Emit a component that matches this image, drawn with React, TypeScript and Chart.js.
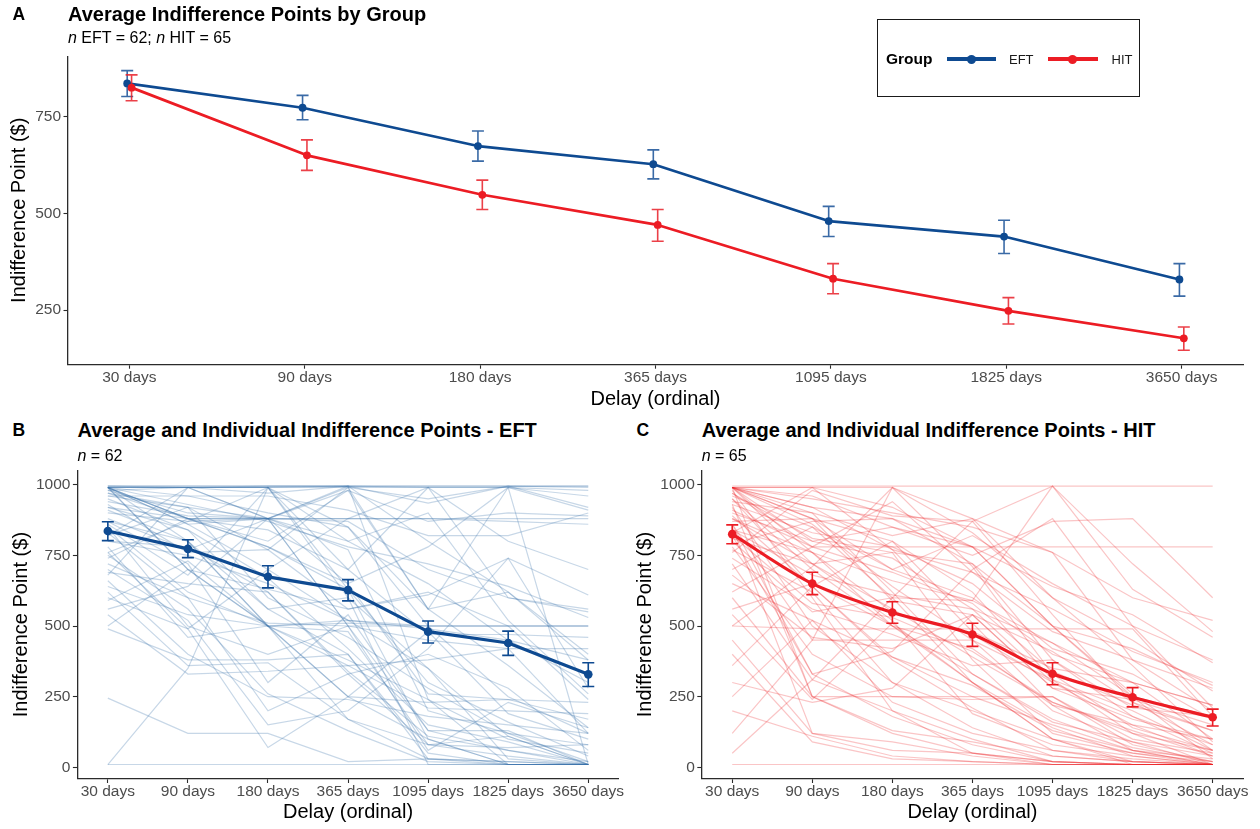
import React, { useEffect, useRef } from "react";
import { Chart, registerables } from "chart.js";

Chart.register(...registerables);

// ---------------- DATA ----------------
const DELAYS = ["30 days", "90 days", "180 days", "365 days", "1095 days", "1825 days", "3650 days"];

const EFT_MEAN = [836, 773, 674, 627, 480, 440, 329];
const EFT_LOW = [802, 742, 635, 589, 440, 396, 286];
const EFT_HIGH = [869, 805, 713, 664, 518, 482, 370];

const HIT_MEAN = [825, 650, 548, 470, 331, 248, 177];
const HIT_LOW = [791, 611, 510, 428, 292, 214, 146];
const HIT_HIGH = [858, 690, 586, 510, 370, 282, 206];

const Y_TICKS_A = [250, 500, 750];
const Y_TICKS_BC = [0, 250, 500, 750, 1000];

// individual participants (EFT, n = 62)
const EFT_INDIVIDUAL = [
  [995, 995, 995, 995, 995, 995, 995],
  [995, 990, 995, 995, 935, 995, 920],
  [990, 990, 990, 995, 990, 990, 10],
  [990, 880, 880, 880, 880, 870, 860],
  [980, 900, 880, 870, 700, 600, 560],
  [990, 990, 970, 995, 800, 620, 400],
  [970, 880, 880, 990, 950, 995, 990],
  [990, 960, 900, 850, 500, 250, 120],
  [990, 880, 780, 630, 300, 160, 40],
  [960, 920, 880, 995, 240, 10, 10],
  [940, 890, 880, 500, 130, 60, 20],
  [990, 700, 500, 520, 500, 500, 500],
  [990, 990, 880, 800, 900, 520, 260],
  [920, 840, 670, 420, 150, 90, 10],
  [900, 870, 880, 880, 880, 880, 880],
  [870, 800, 500, 380, 240, 100, 50],
  [860, 680, 990, 700, 470, 470, 460],
  [850, 500, 400, 500, 500, 500, 500],
  [830, 600, 200, 330, 80, 110, 10],
  [820, 920, 770, 990, 560, 990, 960],
  [800, 750, 650, 520, 490, 450, 380],
  [990, 800, 500, 250, 100, 10, 10],
  [780, 460, 500, 480, 80, 40, 10],
  [760, 870, 990, 600, 350, 110, 10],
  [995, 995, 995, 995, 995, 995, 995],
  [750, 560, 260, 130, 20, 10, 10],
  [740, 880, 780, 650, 780, 990, 910],
  [720, 600, 510, 500, 450, 420, 420],
  [700, 520, 150, 200, 420, 740, 610],
  [690, 650, 620, 340, 110, 60, 10],
  [680, 990, 880, 770, 200, 120, 20],
  [660, 400, 250, 240, 180, 150, 120],
  [640, 540, 500, 510, 500, 500, 500],
  [620, 360, 370, 170, 30, 20, 10],
  [600, 490, 700, 880, 990, 800, 700],
  [590, 730, 500, 250, 230, 240, 230],
  [560, 640, 880, 980, 870, 900, 890],
  [540, 330, 340, 360, 210, 200, 190],
  [500, 700, 500, 170, 80, 70, 80],
  [490, 380, 380, 400, 50, 10, 10],
  [245, 120, 120, 20, 30, 20, 10],
  [10, 10, 10, 10, 10, 10, 10],
  [10, 350, 990, 630, 100, 10, 10],
  [990, 880, 800, 980, 560, 620, 380],
  [970, 920, 600, 460, 280, 120, 80],
  [990, 990, 990, 800, 650, 450, 300],
  [950, 840, 560, 400, 30, 10, 10],
  [930, 760, 770, 560, 610, 740, 280],
  [990, 700, 630, 560, 620, 500, 240],
  [980, 990, 990, 990, 990, 990, 980],
  [960, 960, 960, 910, 820, 820, 900],
  [920, 880, 840, 700, 990, 600, 550],
  [910, 800, 560, 600, 10, 10, 10],
  [990, 860, 700, 520, 350, 30, 10],
  [880, 770, 880, 500, 60, 230, 140],
  [870, 720, 300, 540, 130, 130, 10],
  [850, 620, 500, 360, 380, 420, 120],
  [990, 930, 870, 780, 720, 640, 530],
  [820, 990, 990, 850, 560, 360, 140],
  [800, 780, 620, 330, 400, 280, 60],
  [990, 860, 880, 650, 260, 240, 170],
  [760, 490, 70, 250, 480, 190, 100],
];

// individual participants (HIT, n = 65)
const HIT_INDIVIDUAL = [
  [995, 995, 995, 995, 995, 995, 995],
  [10, 10, 10, 10, 10, 10, 10],
  [500, 490, 490, 490, 490, 490, 180],
  [990, 250, 250, 250, 250, 80, 20],
  [990, 920, 880, 780, 500, 250, 30],
  [990, 880, 800, 620, 310, 120, 10],
  [980, 600, 200, 50, 10, 10, 10],
  [970, 780, 780, 780, 780, 780, 780],
  [960, 850, 700, 600, 400, 300, 100],
  [950, 700, 500, 300, 100, 20, 10],
  [940, 900, 820, 880, 600, 450, 270],
  [930, 250, 120, 50, 20, 10, 10],
  [920, 500, 300, 200, 100, 50, 10],
  [990, 990, 920, 780, 500, 260, 60],
  [900, 800, 850, 750, 870, 880, 600],
  [890, 640, 390, 250, 150, 60, 10],
  [880, 760, 550, 470, 300, 180, 80],
  [870, 880, 700, 820, 650, 500, 380],
  [860, 450, 450, 450, 200, 90, 10],
  [850, 120, 90, 40, 10, 10, 10],
  [990, 950, 900, 850, 760, 600, 520],
  [840, 680, 610, 560, 440, 300, 220],
  [830, 990, 770, 690, 560, 410, 300],
  [820, 330, 180, 80, 20, 10, 10],
  [810, 720, 760, 380, 120, 50, 20],
  [990, 800, 740, 560, 300, 150, 40],
  [800, 550, 600, 590, 440, 250, 180],
  [790, 870, 880, 720, 500, 420, 290],
  [780, 400, 250, 240, 250, 100, 50],
  [770, 620, 300, 140, 40, 20, 10],
  [760, 980, 890, 870, 995, 720, 480],
  [990, 760, 500, 420, 220, 60, 10],
  [740, 560, 470, 360, 380, 210, 180],
  [720, 310, 200, 100, 20, 10, 10],
  [990, 920, 770, 480, 350, 300, 220],
  [700, 850, 600, 300, 100, 10, 10],
  [680, 460, 420, 540, 280, 240, 150],
  [650, 520, 230, 120, 60, 30, 10],
  [620, 780, 940, 690, 480, 380, 280],
  [600, 250, 130, 90, 40, 20, 10],
  [990, 860, 640, 450, 310, 200, 60],
  [560, 650, 500, 330, 160, 90, 40],
  [540, 240, 510, 300, 140, 40, 10],
  [500, 710, 990, 830, 600, 360, 90],
  [450, 120, 60, 50, 20, 10, 10],
  [400, 90, 30, 20, 10, 10, 10],
  [360, 640, 800, 510, 220, 150, 100],
  [300, 230, 280, 540, 410, 230, 130],
  [250, 520, 390, 290, 130, 60, 30],
  [200, 110, 40, 20, 10, 10, 10],
  [120, 450, 990, 710, 330, 140, 60],
  [50, 310, 600, 870, 540, 230, 80],
  [990, 900, 620, 330, 170, 70, 20],
  [970, 810, 760, 720, 380, 180, 50],
  [950, 640, 380, 210, 60, 20, 10],
  [930, 830, 780, 650, 420, 330, 170],
  [990, 720, 560, 390, 230, 130, 40],
  [910, 780, 690, 580, 340, 220, 130],
  [990, 990, 990, 880, 760, 380, 200],
  [880, 720, 520, 190, 80, 40, 10],
  [860, 330, 410, 700, 880, 500, 210],
  [990, 880, 590, 540, 280, 170, 100],
  [840, 760, 660, 590, 995, 630, 460],
  [990, 960, 850, 780, 640, 540, 370],
  [820, 580, 530, 410, 230, 120, 60],
];

// ---------------- STYLE ----------------
const FONT = "'Liberation Sans', Arial, Helvetica, sans-serif";
const BLUE = "#0E4A91";
const RED = "#EC1C24";
const BLUE_ERR = "rgba(24,80,150,0.85)";
const RED_ERR = "rgba(232,30,40,0.85)";
const BLUE_IND = "rgba(55,110,170,0.28)";
const RED_IND = "rgba(236,30,36,0.26)";
const AXIS = "#2b2b2b";
const TICK_TXT = "#4D4D4D";

const errorBarPlugin = {
  id: "errorBars",
  beforeDatasetDraw(chart: any, args: any) {
    const ds = chart.data.datasets[args.index];
    if (!ds.errLow) return;
    const ctx = chart.ctx;
    const xs = chart.scales.x;
    const ys = chart.scales.y;
    const half = ds.capWidth / 2;
    ctx.save();
    ctx.strokeStyle = ds.errColor;
    ctx.lineWidth = ds.errWidth;
    ds.errLow.forEach((lo: number, i: number) => {
      const x = xs.getPixelForValue(i + (ds.dodge || 0));
      const y1 = ys.getPixelForValue(lo);
      const y2 = ys.getPixelForValue(ds.errHigh[i]);
      ctx.beginPath();
      ctx.moveTo(x, y1);
      ctx.lineTo(x, y2);
      ctx.moveTo(x - half, y1);
      ctx.lineTo(x + half, y1);
      ctx.moveTo(x - half, y2);
      ctx.lineTo(x + half, y2);
      ctx.stroke();
    });
    ctx.restore();
  },
};

function pts(vals: number[], dodge = 0) {
  return vals.map((v, i) => ({ x: i + dodge, y: v }));
}

interface PanelCfg {
  padding: { top: number; right: number; left: number; bottom: number };
  xMin: number;
  xMax: number;
  yMin: number;
  yMax: number;
  yTicks: number[];
  yWidth: number;
  xHeight: number;
  xTitlePad: number;
  yTitlePad: number;
}

function makeOptions(c: PanelCfg): any {
  return {
    animation: false,
    responsive: false,
    maintainAspectRatio: false,
    events: [],
    layout: { padding: c.padding },
    plugins: { legend: { display: false }, tooltip: { enabled: false }, title: { display: false } },
    scales: {
      x: {
        type: "linear",
        min: c.xMin,
        max: c.xMax,
        afterBuildTicks: (s: any) => {
          s.ticks = DELAYS.map((_, i) => ({ value: i }));
        },
        afterFit: (s: any) => {
          s.height = c.xHeight;
        },
        ticks: {
          callback: (v: any) => DELAYS[Math.round(v)] ?? "",
          autoSkip: false,
          maxRotation: 0,
          minRotation: 0,
          color: TICK_TXT,
          font: { family: FONT, size: 15.5, lineHeight: 1 },
          padding: 1,
        },
        grid: {
          display: true,
          drawOnChartArea: false,
          drawTicks: true,
          tickLength: 4.5,
          tickWidth: 1.1,
          tickColor: AXIS,
          color: AXIS,
        },
        border: { display: true, color: AXIS, width: 1.3 },
        title: {
          display: true,
          text: "Delay (ordinal)",
          color: "#000",
          font: { family: FONT, size: 20, lineHeight: 1 },
          padding: { top: 0, bottom: c.xTitlePad },
        },
      },
      y: {
        type: "linear",
        min: c.yMin,
        max: c.yMax,
        afterBuildTicks: (s: any) => {
          s.ticks = c.yTicks.map((v) => ({ value: v }));
        },
        afterFit: (s: any) => {
          s.width = c.yWidth;
        },
        ticks: {
          callback: (v: any) => String(v),
          color: TICK_TXT,
          font: { family: FONT, size: 15.5, lineHeight: 1 },
          padding: 2.5,
        },
        grid: {
          display: true,
          drawOnChartArea: false,
          drawTicks: true,
          tickLength: 4.5,
          tickWidth: 1.1,
          tickColor: AXIS,
          color: AXIS,
        },
        border: { display: true, color: AXIS, width: 1.3 },
        title: {
          display: true,
          text: "Indifference Point ($)",
          color: "#000",
          font: { family: FONT, size: 20, lineHeight: 1 },
          padding: { top: c.yTitlePad, bottom: 0 },
        },
      },
    },
  };
}

function meanDataset(vals: number[], lo: number[], hi: number[], color: string, errColor: string, opts: any) {
  return {
    type: "scatter",
    data: pts(vals, opts.dodge || 0),
    showLine: true,
    borderColor: color,
    backgroundColor: color,
    borderWidth: opts.lineWidth,
    pointRadius: opts.pointRadius,
    pointBorderWidth: 0,
    pointBackgroundColor: color,
    tension: opts.tension || 0,
    borderJoinStyle: "round",
    errLow: lo,
    errHigh: hi,
    dodge: opts.dodge || 0,
    errColor,
    errWidth: 1.6,
    capWidth: 12,
  };
}

function configA() {
  return {
    type: "scatter",
    data: {
      datasets: [
        meanDataset(HIT_MEAN, HIT_LOW, HIT_HIGH, RED, RED_ERR, { dodge: 0.0125, lineWidth: 2.7, pointRadius: 3.9 }),
        meanDataset(EFT_MEAN, EFT_LOW, EFT_HIGH, BLUE, BLUE_ERR, { dodge: -0.0125, lineWidth: 2.7, pointRadius: 3.9 }),
      ],
    },
    options: makeOptions({
      padding: { top: 56.3, right: 17, left: 0, bottom: 0 },
      xMin: -0.35,
      xMax: 6.35,
      yMin: 110,
      yMax: 906,
      yTicks: Y_TICKS_A,
      yWidth: 68,
      xHeight: 415 - 364.2,
      xTitlePad: 6,
      yTitlePad: 9,
    }),
    plugins: [errorBarPlugin],
  };
}

function configIndividual(
  rows: number[][],
  mean: number[],
  lo: number[],
  hi: number[],
  color: string,
  indColor: string,
  tension: number,
  yWidth: number,
  rightPad: number,
  yTitlePad: number
) {
  const datasets: any[] = [
    meanDataset(mean, lo, hi, color, color, { lineWidth: 3.2, pointRadius: 4.3, tension }),
  ];
  rows.forEach((r) => {
    datasets.push({
      type: "scatter",
      data: pts(r),
      showLine: true,
      borderColor: indColor,
      borderWidth: 1.2,
      pointRadius: 0,
      tension: 0,
    });
  });
  return {
    type: "scatter",
    data: { datasets },
    options: makeOptions({
      padding: { top: 20.7, right: rightPad, left: 0, bottom: 0 },
      xMin: -0.38,
      xMax: 6.38,
      yMin: -39.5,
      yMax: 1049.5,
      yTicks: Y_TICKS_BC,
      yWidth,
      xHeight: 50.5,
      xTitlePad: 6.8,
      yTitlePad,
    }),
    plugins: [errorBarPlugin],
  };
}

function ChartCanvas(props: { left: number; top: number; width: number; height: number; make: () => any }) {
  const ref = useRef<HTMLCanvasElement>(null);
  useEffect(() => {
    const chart = new Chart(ref.current as HTMLCanvasElement, props.make());
    return () => chart.destroy();
  }, []);
  return (
    <canvas
      ref={ref}
      width={props.width}
      height={props.height}
      style={{ position: "absolute", left: props.left, top: props.top, width: props.width, height: props.height }}
    />
  );
}

function Txt(props: { x: number; baseline: number; size: number; bold?: boolean; color?: string; children: any }) {
  return (
    <div
      style={{
        position: "absolute",
        left: props.x,
        top: props.baseline - 0.8465 * props.size,
        fontFamily: FONT,
        fontSize: props.size,
        lineHeight: "1",
        fontWeight: props.bold ? 700 : 400,
        color: props.color || "#000",
        whiteSpace: "nowrap",
      }}
    >
      {props.children}
    </div>
  );
}

function LegendKey(props: { x: number; y: number; color: string }) {
  return (
    <>
      <div style={{ position: "absolute", left: props.x, top: props.y - 1.6, width: 49.5, height: 3.2, background: props.color }} />
      <div
        style={{
          position: "absolute",
          left: props.x + 24.75 - 4.5,
          top: props.y - 4.5,
          width: 9,
          height: 9,
          borderRadius: "50%",
          background: props.color,
        }}
      />
    </>
  );
}

export default function App() {
  return (
    <div style={{ position: "absolute", left: 0, top: 0, width: 1260, height: 829, background: "#fff", overflow: "hidden" }}>
      <ChartCanvas left={0} top={0} width={1260} height={415} make={configA} />
      <ChartCanvas
        left={0}
        top={450}
        width={630}
        height={379}
        make={() => configIndividual(EFT_INDIVIDUAL, EFT_MEAN, EFT_LOW, EFT_HIGH, BLUE, BLUE_IND, 0, 77.4, 11.3, 11)}
      />
      <ChartCanvas
        left={630}
        top={450}
        width={630}
        height={379}
        make={() => configIndividual(HIT_INDIVIDUAL, HIT_MEAN, HIT_LOW, HIT_HIGH, RED, RED_IND, 0.3, 71.8, 16.9, 5)}
      />

      {/* Panel A titles */}
      <Txt x={12.5} baseline={20.7} size={17.5} bold>A</Txt>
      <Txt x={68} baseline={20.7} size={20} bold>Average Indifference Points by Group</Txt>
      <Txt x={68} baseline={43.3} size={16}>
        <i>n</i> EFT = 62; <i>n</i> HIT = 65
      </Txt>

      {/* Legend */}
      <div
        style={{
          position: "absolute",
          left: 877.3,
          top: 19.3,
          width: 262.7,
          height: 78,
          border: "1.4px solid #1a1a1a",
          boxSizing: "border-box",
        }}
      />
      <Txt x={886} baseline={64.5} size={15.5} bold>Group</Txt>
      <LegendKey x={946.7} y={59} color={BLUE} />
      <Txt x={1009} baseline={63.7} size={13} color="#1a1a1a">EFT</Txt>
      <LegendKey x={1048} y={59} color={RED} />
      <Txt x={1111.5} baseline={63.7} size={13} color="#1a1a1a">HIT</Txt>

      {/* Panel B titles */}
      <Txt x={12.5} baseline={436.7} size={17.5} bold>B</Txt>
      <Txt x={77.5} baseline={436.7} size={20} bold>Average and Individual Indifference Points - EFT</Txt>
      <Txt x={77.5} baseline={461.7} size={16}>
        <i>n</i> = 62
      </Txt>

      {/* Panel C titles */}
      <Txt x={636.5} baseline={436.7} size={17.5} bold>C</Txt>
      <Txt x={701.7} baseline={436.7} size={20} bold>Average and Individual Indifference Points - HIT</Txt>
      <Txt x={701.7} baseline={461.7} size={16}>
        <i>n</i> = 65
      </Txt>
    </div>
  );
}
